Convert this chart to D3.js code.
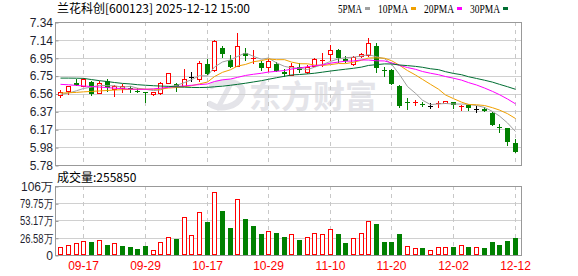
<!DOCTYPE html>
<html><head><meta charset="utf-8">
<script src="https://cdn.jsdelivr.net/npm/d3@7/dist/d3.min.js"></script>
<style>html,body{margin:0;padding:0;background:#fff;} svg{display:block;}</style>
</head><body><svg id="c" width="578" height="276"></svg>
<script>
const stockTitle = "兰花科创[600123] 2025-12-12 15:00";
const dates = ["09-12","09-15","09-16","09-17","09-18","09-19","09-22","09-23","09-24","09-25",
"09-26","09-29","09-30","10-09","10-10","10-13","10-14","10-15","10-16","10-17",
"10-20","10-21","10-22","10-23","10-24","10-27","10-28","10-29","10-30","10-31",
"11-03","11-04","11-05","11-06","11-07","11-10","11-11","11-12","11-13","11-14",
"11-17","11-18","11-19","11-20","11-21","11-24","11-25","11-26","11-27","11-28",
"12-01","12-02","12-03","12-04","12-05","12-08","12-09","12-10","12-11","12-12"];
const open = [6.544,6.584,6.671,6.642,6.689,6.562,6.696,6.609,6.617,6.617,
6.587,6.576,6.551,6.569,6.671,6.660,6.642,6.735,6.715,6.879,
6.813,7.056,6.922,6.855,6.999,6.931,6.893,6.846,6.879,6.795,
6.767,6.852,6.791,6.865,6.915,6.989,7.035,6.933,6.887,6.966,
6.985,7.078,6.816,6.816,6.642,6.467,6.456,6.448,6.424,6.451,
6.451,6.467,6.424,6.432,6.394,6.393,6.351,6.198,6.180,6.017];
const high = [6.598,6.647,6.715,6.726,6.696,6.700,6.715,6.653,6.660,6.642,
6.617,6.580,6.580,6.689,6.787,6.678,6.824,6.791,6.915,6.933,
7.144,7.081,6.980,7.223,7.053,7.035,6.915,6.933,6.904,6.824,
6.889,6.896,6.874,6.944,7.002,7.089,7.042,6.969,6.969,7.005,
7.165,7.114,6.846,6.824,6.653,6.508,6.484,6.471,6.460,6.481,
6.478,6.467,6.431,6.442,6.420,6.409,6.361,6.227,6.184,6.064];
const low = [6.514,6.544,6.647,6.634,6.533,6.560,6.573,6.525,6.569,6.569,
6.569,6.460,6.536,6.544,6.664,6.580,6.634,6.689,6.689,6.762,
6.798,6.947,6.835,6.846,6.915,6.879,6.809,6.798,6.791,6.737,
6.751,6.780,6.770,6.852,6.852,6.915,6.893,6.896,6.860,6.947,
6.958,6.787,6.743,6.653,6.399,6.380,6.424,6.413,6.391,6.405,
6.449,6.391,6.372,6.369,6.344,6.361,6.205,6.132,5.987,5.914];
const close = [6.580,6.642,6.653,6.715,6.558,6.678,6.623,6.645,6.642,6.606,
6.576,6.562,6.573,6.678,6.780,6.647,6.715,6.735,6.889,6.773,
7.133,6.991,6.849,7.073,6.969,6.942,6.833,6.920,6.805,6.778,
6.865,6.813,6.846,6.933,6.925,7.035,6.949,6.911,6.958,6.994,
7.108,6.835,6.805,6.664,6.424,6.453,6.464,6.431,6.424,6.459,
6.476,6.437,6.429,6.407,6.394,6.372,6.216,6.180,6.034,5.925];
const ma5 = [6.550,6.565,6.590,6.615,6.630,6.649,6.645,6.644,6.629,6.639,
6.618,6.606,6.592,6.599,6.634,6.648,6.679,6.711,6.753,6.752,
6.849,6.904,6.927,6.964,7.003,6.965,6.933,6.947,6.894,6.856,
6.840,6.836,6.821,6.847,6.876,6.910,6.938,6.951,6.956,6.969,
6.984,6.961,6.940,6.881,6.767,6.636,6.562,6.487,6.439,6.446,
6.451,6.445,6.445,6.442,6.429,6.408,6.364,6.314,6.239,6.145];
const ma10 = [6.565,6.568,6.572,6.578,6.583,6.588,6.593,6.598,6.602,6.605,
6.607,6.607,6.606,6.608,6.620,6.625,6.635,6.645,6.665,6.685,
6.745,6.791,6.819,6.859,6.877,6.907,6.919,6.937,6.929,6.929,
6.903,6.885,6.884,6.870,6.866,6.875,6.887,6.886,6.901,6.923,
6.947,6.949,6.945,6.918,6.868,6.810,6.762,6.714,6.660,6.607,
6.544,6.504,6.466,6.440,6.437,6.429,6.405,6.379,6.340,6.287];
const ma20 = [6.660,6.655,6.648,6.642,6.636,6.630,6.624,6.618,6.613,6.608,
6.606,6.606,6.610,6.618,6.628,6.636,6.643,6.650,6.657,6.664,
6.691,6.709,6.718,6.736,6.757,6.770,6.781,6.794,6.802,6.811,
6.826,6.838,6.852,6.864,6.872,6.891,6.903,6.912,6.915,6.926,
6.925,6.917,6.915,6.894,6.867,6.843,6.824,6.800,6.781,6.765,
6.745,6.727,6.706,6.679,6.653,6.620,6.583,6.547,6.500,6.447];
const ma30 = [6.728,6.728,6.727,6.725,6.712,6.700,6.690,6.680,6.670,6.664,
6.656,6.650,6.645,6.641,6.638,6.633,6.629,6.626,6.625,6.627,
6.633,6.640,6.650,6.660,6.672,6.686,6.700,6.715,6.732,6.748,
6.762,6.767,6.774,6.781,6.793,6.805,6.816,6.825,6.835,6.848,
6.866,6.875,6.883,6.882,6.871,6.864,6.856,6.846,6.830,6.820,
6.798,6.779,6.765,6.743,6.724,6.705,6.684,6.660,6.634,6.606];
// volume in 万手
const volume = [11.8,14.9,17.9,21.0,20.0,22.5,14.9,17.9,13.8,12.3,
9.2,13.8,7.2,19.5,27.0,24.6,57.9,30.2,65.5,50.7,
97.8,67.6,41.5,87.0,55.3,44.6,32.3,36.4,33.8,27.7,
31.8,23.0,27.0,33.8,32.3,39.4,32.3,18.4,25.6,33.3,
51.7,47.6,20.0,20.0,32.3,13.3,10.2,10.8,7.2,11.8,
11.8,12.3,14.9,12.3,11.8,10.8,20.0,15.4,21.5,25.585];
const volumeDir = [1,1,1,1,-1,1,-1,1,-1,-1, -1,-1,1,1,1,-1,1,1,1,-1,
1,-1,-1,1,-1,-1,-1,1,-1,-1, 1,-1,1,1,1,1,-1,-1,1,1,
1,-1,-1,-1,-1,1,1,-1,1,1, 1,-1,1,-1,1,-1,-1,-1,-1,-1];
const lastVolume = 255850;
const priceTicks = [5.78,5.975,6.17,6.365,6.56,6.755,6.95,7.145,7.34];
const priceTickLabels = ["5.78","5.98","6.17","6.37","6.56","6.75","6.95","7.14","7.34"];
const volTicks = [0,26.583,53.167,79.75,106.33];
const volTickLabels = ["0","26.58万","53.17万","79.75万","106万"];
const xLabelDates = ["09-17","09-29","10-17","10-29","11-10","11-20","12-02","12-12"];
const maNames = ["5PMA","10PMA","20PMA","30PMA"];
const maColors = ["#a0a0a0","#f0a000","#ff00ff","#006e32"];
const maSeries = [ma5, ma10, ma20, ma30];

const RED = "#ff0000", GREEN = "#008000", BLACK = "#000000";
const svg = d3.select("#c");
const L = 55, R = 522, PT = 22, PB = 165, VT = 186, VB = 255;

const x = d3.scaleBand().domain(dates).range([56.45, 518.45]);
const cx = d => Math.round(x(d) + x.bandwidth() / 2) + 0.5;
const yP = d3.scaleLinear().domain([5.78, 7.34]).range([PB, PT]);
const yV = d3.scaleLinear().domain([0, 106.33]).range([VB, VT]);

// watermark
const wm = svg.append("g").attr("fill", "none").attr("stroke", "#e4e4e9");
wm.append("path").attr("stroke-width", 6).attr("stroke-linecap", "round")
  .attr("d", "M212,86 C226,78 246,82 242,95 C238,107 220,111 210,104");
wm.append("path").attr("stroke-width", 5).attr("stroke-linecap", "round")
  .attr("d", "M230,85 L218,108");
svg.append("text").attr("x", 249).attr("y", 108)
  .attr("font-family", "'Noto Sans CJK SC'").attr("font-weight", "bold")
  .attr("font-size", 32).attr("fill", "#e4e4e9").text("东方财富");

// grids
const grid = svg.append("g");
grid.selectAll("line.hp").data(priceTicks).join("line")
  .attr("x1", L).attr("x2", R)
  .attr("y1", d => Math.round(yP(d)) + 0.5).attr("y2", d => Math.round(yP(d)) + 0.5)
  .attr("stroke", "#d0d0d0");
grid.selectAll("line.hv").data(volTicks).join("line")
  .attr("x1", L).attr("x2", R)
  .attr("y1", d => Math.round(yV(d)) + 0.5).attr("y2", d => Math.round(yV(d)) + 0.5)
  .attr("stroke", "#d0d0d0");
[[PT, PB], [VT, VB]].forEach(([t, b]) => {
  grid.append("g").selectAll("line").data(xLabelDates).join("line")
    .attr("x1", d => cx(d)).attr("x2", d => cx(d))
    .attr("y1", t).attr("y2", b)
    .attr("stroke", "#c8c8c8").attr("stroke-dasharray", "4,4");
});

// candles
const cg = svg.append("g");
dates.forEach((d, i) => {
  const c = cx(d);
  const o = open[i], h = high[i], l = low[i], cl = close[i];
  const col = cl > o ? RED : (cl < o ? GREEN : BLACK);
  const yt = Math.round(yP(Math.max(o, cl))), yb = Math.round(yP(Math.min(o, cl)));
  const yh = Math.round(yP(h)), yl = Math.round(yP(l));
  if (cl > o && yb - yt >= 2) {
    cg.append("line").attr("x1", c).attr("x2", c).attr("y1", yh).attr("y2", yt).attr("stroke", col);
    cg.append("line").attr("x1", c).attr("x2", c).attr("y1", yb + 1).attr("y2", yl).attr("stroke", col);
    cg.append("rect").attr("x", c - 2).attr("y", yt + 0.5).attr("width", 4).attr("height", yb - yt)
      .attr("fill", "#fff").attr("stroke", col);
  } else {
    cg.append("line").attr("x1", c).attr("x2", c).attr("y1", yh).attr("y2", yl).attr("stroke", col);
    cg.append("rect").attr("x", c - 2.5).attr("y", yt).attr("width", 5)
      .attr("height", Math.max(1, yb - yt)).attr("fill", col);
  }
});

// moving averages
maSeries.forEach((s, k) => {
  svg.append("path").datum(s)
    .attr("fill", "none").attr("stroke", maColors[k]).attr("stroke-width", 1)
    .attr("d", d3.line().x((v, i) => cx(dates[i])).y(v => yP(v)));
});

// volume bars
const vg = svg.append("g");
dates.forEach((d, i) => {
  const c = cx(d);
  const yt = Math.round(yV(volume[i]));
  if (volumeDir[i] > 0) {
    vg.append("rect").attr("x", c - 2).attr("y", yt + 0.5).attr("width", 4).attr("height", VB - yt - 1)
      .attr("fill", "#fff").attr("stroke", RED);
  } else {
    vg.append("rect").attr("x", c - 2.5).attr("y", yt).attr("width", 5).attr("height", VB - yt)
      .attr("fill", GREEN);
  }
});

// frames
svg.append("rect").attr("x", L + 0.5).attr("y", PT + 0.5).attr("width", R - L - 1).attr("height", PB - PT)
  .attr("fill", "none").attr("stroke", "#999");
svg.append("rect").attr("x", L + 0.5).attr("y", VT + 0.5).attr("width", R - L - 1).attr("height", VB - VT)
  .attr("fill", "none").attr("stroke", "#999");

// axes
const fontSans = "Arial, 'Liberation Sans', sans-serif";
const ay = svg.append("g").attr("transform", `translate(${L + 0.5},0.5)`)
  .call(d3.axisLeft(yP).tickValues(priceTicks).tickFormat((d, i) => priceTickLabels[i])
    .tickSizeInner(-3).tickSizeOuter(0).tickPadding(2.5));
ay.select(".domain").remove();
ay.selectAll("line").attr("stroke", "#999");
ay.selectAll("text").attr("font-family", fontSans).attr("font-size", 12).attr("fill", "#1f1f2f");

const av = svg.append("g").attr("transform", `translate(${L + 0.5},0.5)`)
  .call(d3.axisLeft(yV).tickValues(volTicks).tickFormat((d, i) => volTickLabels[i])
    .tickSizeInner(-3).tickSizeOuter(0).tickPadding(2.5));
av.select(".domain").remove();
av.selectAll("line").attr("stroke", "#999");
av.selectAll("text").attr("font-family", fontSans).attr("font-size", 12).attr("fill", "#1f1f2f")
  .each(function () {
    if (this.getComputedTextLength() > 33) {
      this.setAttribute("textLength", 33);
      this.setAttribute("lengthAdjust", "spacingAndGlyphs");
    }
  });

const ax = svg.append("g").attr("transform", `translate(0,${VB})`)
  .call(d3.axisBottom(x).tickValues(xLabelDates).tickSize(0).tickPadding(6.5));
ax.select(".domain").remove();
ax.selectAll(".tick").attr("transform", d => `translate(${cx(d)},0)`);
ax.selectAll("text").attr("font-family", fontSans).attr("font-size", 12).attr("fill", RED);

// title
svg.append("text").attr("x", 57).attr("y", 12.5)
  .attr("font-family", "'Noto Sans CJK SC', sans-serif").attr("font-size", 12).attr("fill", "#000")
  .text(stockTitle);
svg.append("text").attr("x", 57).attr("y", 181.5)
  .attr("font-family", "'Noto Sans CJK SC', sans-serif").attr("font-size", 12).attr("fill", "#000")
  .text("成交量:" + lastVolume);

// legend
const lg = svg.append("g");
let lx = 338;
maNames.forEach((n, k) => {
  const w = n.length * 6;
  lg.append("text").attr("x", lx).attr("y", 12.5)
    .attr("font-family", "'Liberation Serif', serif").attr("font-size", 12).attr("fill", "#000")
    .attr("textLength", w).attr("lengthAdjust", "spacingAndGlyphs").text(n);
  lg.append("rect").attr("x", lx + w + 3).attr("y", 7).attr("width", 5).attr("height", 3).attr("fill", maColors[k]);
  lx = lx + w + 3 + 5 + 8;
});
</script></body></html>
